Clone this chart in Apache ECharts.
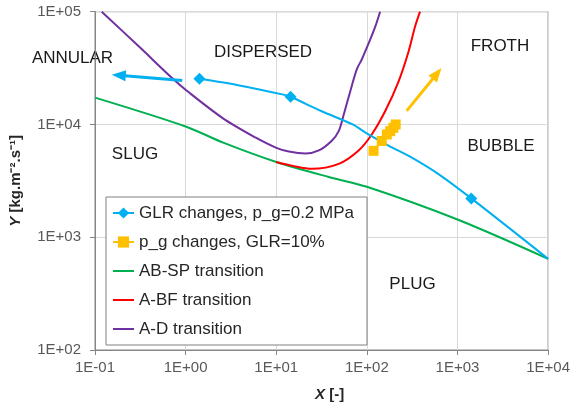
<!DOCTYPE html>
<html><head><meta charset="utf-8">
<script src="https://cdn.jsdelivr.net/npm/echarts@6/dist/echarts.min.js"></script>
<style>html,body{margin:0;padding:0;background:#fff}#c{width:573px;height:407px}</style>
</head><body><div id="c"></div>
<script>
// ---- data ----
const xTicks = [0.1, 1, 10, 100, 1000, 10000];
const xTickLabels = ['1E-01','1E+00','1E+01','1E+02','1E+03','1E+04'];
const yTicks = [100, 1000, 10000, 100000];
const yTickLabels = ['1E+02','1E+03','1E+04','1E+05'];

// GLR changes, p_g = 0.2 MPa
const glrX = [1.42, 3.91, 12.7, 14.4, 31.8, 69.7, 97.5, 173, 310, 612, 1420, 10000];
const glrY = [25400, 22200, 18200, 17600, 13100, 10000, 8430, 6500, 5110, 3650, 2210, 643];
const glrMarker = [1, 0, 0, 1, 0, 0, 0, 0, 0, 0, 1, 0];

// p_g changes, GLR = 10%
const pgX = [118.5, 146, 166, 181, 196, 208];
const pgY = [5840, 7140, 8150, 8730, 9330, 10000];

// AB-SP transition
const abspX = [0.1, 1, 2.6, 10, 38, 100, 1000, 10000];
const abspY = [17300, 9600, 6900, 4650, 3420, 2800, 1435, 643];

// A-BF transition
const abfX = [10, 15.7, 24.7, 48.9, 81.1, 112.7, 159, 223, 287, 340, 386];
const abfY = [4650, 4270, 4040, 4470, 5880, 8110, 13100, 23900, 43700, 73600, 100000];

// A-D transition
const adX = [0.1186, 0.312, 0.724, 1.015, 2.56, 5.96, 9.87, 13.8, 21.1, 29.5, 41.0, 48.9, 55.5, 68.4, 77.6, 88.1, 109, 124, 140];
const adY = [100000, 48300, 25400, 20100, 11400, 7630, 6240, 5750, 5530, 5880, 7180, 8730, 12200, 22200, 31000, 37900, 56700, 74000, 100000];

// annotation arrows [from, to] (to = centre of arrow head)
const glrArrow = [[0.918, 24600], [0.183, 27300]];
const pgArrow = [[275, 13200], [596, 28300]];

// region labels
const regionNames = ['ANNULAR', 'DISPERSED', 'FROTH', 'BUBBLE', 'SLUG', 'PLUG'];
const regionPos = [[72.5, 58], [263, 52], [500, 46], [501, 146], [135, 154], [412.5, 284]];

// ---- chart ----
function pick(v, ticks, labels) {
  let best = 0, bd = Infinity;
  ticks.forEach((t, i) => { const d = Math.abs(Math.log10(v) - Math.log10(t)); if (d < bd) { bd = d; best = i; } });
  return bd < 0.01 ? labels[best] : '';
}
const zip = (a, b) => a.map((v, i) => [v, b[i]]);
const FONT = 'Liberation Sans';
const CLEAR = 'rgba(0,0,0,0)';
const arrowLine = (color, pts) => ({
  silent: true, symbol: ['none', 'triangle'], symbolSize: [11, 14], label: { show: false },
  lineStyle: { color: color, width: 3, type: 'solid', opacity: 1 },
  data: [[{ coord: pts[0] }, { coord: pts[1] }]]
});
const plainLine = (name, xs, ys, color, z) => ({
  name: name, type: 'line', data: zip(xs, ys), smooth: 0.3, symbol: 'circle', showSymbol: false, z: z,
  itemStyle: { color: CLEAR, borderWidth: 0 }, lineStyle: { color: color, width: 2 }
});
const chart = echarts.init(document.getElementById('c'), null, { renderer: 'canvas' });
chart.setOption({
  animation: false,
  backgroundColor: '#fff',
  textStyle: { fontFamily: FONT },
  grid: { left: 95, right: 23.7, top: 11.7, bottom: 51, show: true, borderColor: '#868686', borderWidth: 1, backgroundColor: 'transparent' },
  xAxis: {
    type: 'log', logBase: 10, min: 0.1, max: 10000,
    axisLine: { show: true, lineStyle: { color: '#868686', width: 1 } },
    axisTick: { show: true, length: 5, lineStyle: { color: '#868686' } },
    splitLine: { show: true, lineStyle: { color: '#d9d9d9', width: 1 } },
    axisLabel: { fontFamily: FONT, fontSize: 15, color: '#595959', margin: 10, formatter: v => pick(v, xTicks, xTickLabels) },
    name: '{i|X} [-]', nameLocation: 'middle', nameGap: 37,
    nameTextStyle: { fontFamily: FONT, fontSize: 15, fontWeight: 'bold', color: '#262626', padding: [0, 0, 0, 16],
      rich: { i: { fontFamily: FONT, fontSize: 15, fontWeight: 'bold', fontStyle: 'italic', color: '#262626' } } }
  },
  yAxis: {
    type: 'log', logBase: 10, min: 100, max: 100000,
    axisLine: { show: true, lineStyle: { color: '#868686', width: 1 } },
    axisTick: { show: true, length: 5, lineStyle: { color: '#868686' } },
    splitLine: { show: true, lineStyle: { color: '#d9d9d9', width: 1 } },
    axisLabel: { fontFamily: FONT, fontSize: 15, color: '#595959', margin: 14, formatter: v => pick(v, yTicks, yTickLabels) },
    name: '{i|Y} [kg.m\u207B\u00B2.s\u207B\u00B9]', nameLocation: 'middle', nameGap: 72, nameRotate: 90,
    nameTextStyle: { fontFamily: FONT, fontSize: 15, fontWeight: 'bold', color: '#262626',
      rich: { i: { fontFamily: FONT, fontSize: 15, fontWeight: 'bold', fontStyle: 'italic', color: '#262626' } } }
  },
  legend: {
    orient: 'vertical', left: 106, top: 197,
    padding: [6, 13, 6, 6], itemGap: 9, itemWidth: 21, itemHeight: 14,
    backgroundColor: '#fff', borderColor: '#808080', borderWidth: 1,
    textStyle: { fontFamily: FONT, fontSize: 17, color: '#262626', lineHeight: 20 },
    data: ['GLR changes, p_g=0.2 MPa', 'p_g changes, GLR=10%', 'AB-SP transition', 'A-BF transition', 'A-D transition']
  },
  series: [
    plainLine('AB-SP transition', abspX, abspY, '#00B050', 2),
    plainLine('A-BF transition', abfX, abfY, '#FF0000', 3),
    plainLine('A-D transition', adX, adY, '#7030A0', 3),
    { name: 'GLR changes, p_g=0.2 MPa', type: 'line', smooth: 0.3, symbol: 'diamond', symbolSize: 12, showSymbol: true, z: 4,
      data: glrX.map((x, i) => ({ value: [x, glrY[i]], symbol: glrMarker[i] ? 'diamond' : 'none' })),
      itemStyle: { color: '#00B0F0' }, lineStyle: { color: '#00B0F0', width: 2 },
      markLine: arrowLine('#00B0F0', glrArrow) },
    { name: 'p_g changes, GLR=10%', type: 'line', symbol: 'rect', symbolSize: 10, z: 5,
      data: zip(pgX, pgY),
      itemStyle: { color: '#FFC000' }, lineStyle: { color: '#FFC000', width: 2 },
      markLine: arrowLine('#FFC000', pgArrow) }
  ],
  graphic: regionNames.map((t, i) => ({
    type: 'text', x: regionPos[i][0], y: regionPos[i][1], silent: true,
    style: { text: t, fontFamily: FONT, fontSize: 17, fill: '#1a1a1a', align: 'center', verticalAlign: 'middle' }
  }))
});
</script></body></html>
